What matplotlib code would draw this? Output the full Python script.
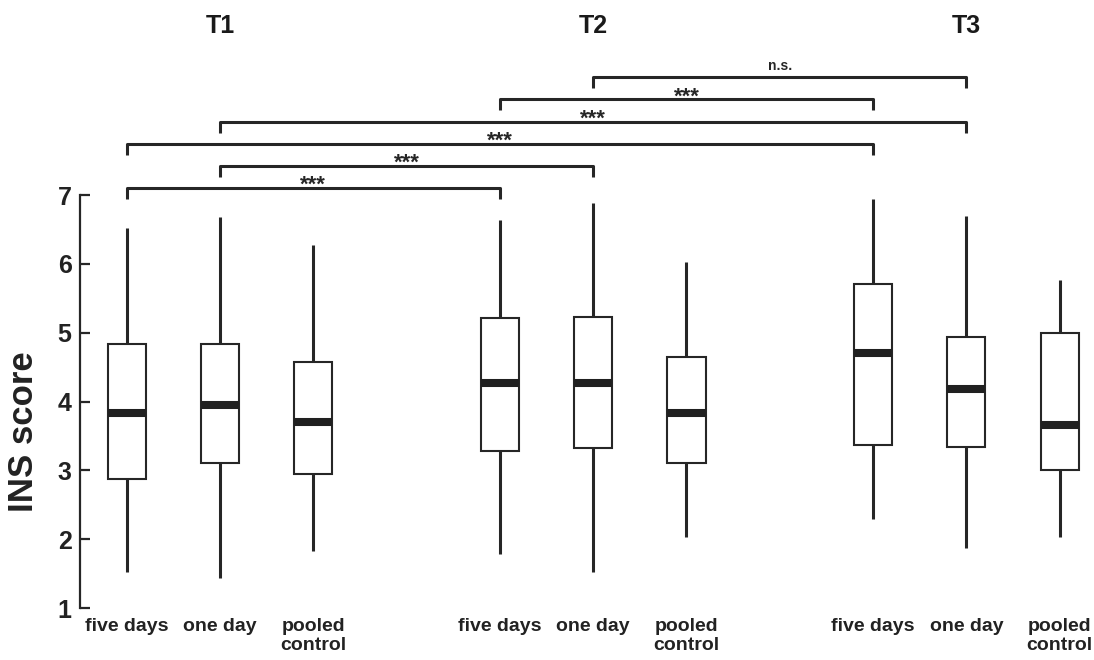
import matplotlib
matplotlib.use("Agg")
import matplotlib.pyplot as plt

plt.rcParams['font.family'] = ['Liberation Sans', 'DejaVu Sans']
plt.rcParams['font.weight'] = 'bold'

# Timepoints and groups
timepoints = ["T1", "T2", "T3"]
groups = ["five days", "one day", "pooled\ncontrol"]
positions = [1, 2, 3, 5, 6, 7, 9, 10, 11]

# Box statistics per group (T1 five days, one day, control, T2 ..., T3 ...)
whisker_low = [1.52, 1.44, 1.83, 1.79, 1.52, 2.03, 2.29, 1.87, 2.03]
quartile1   = [2.87, 3.10, 2.95, 3.28, 3.32, 3.10, 3.37, 3.34, 3.00]
medians     = [3.84, 3.95, 3.70, 4.27, 4.27, 3.83, 4.70, 4.18, 3.66]
quartile3   = [4.83, 4.83, 4.58, 5.21, 5.23, 4.64, 5.70, 4.94, 4.99]
whisker_high = [6.52, 6.68, 6.28, 6.63, 6.89, 6.02, 6.94, 6.69, 5.77]

# Pairwise comparisons: (index a, index b, significance label)
comparisons = [
    (0, 3, "***"),
    (1, 4, "***"),
    (0, 6, "***"),
    (1, 7, "***"),
    (3, 6, "***"),
    (4, 7, "n.s."),
]

ink = "#262626"

fig = plt.figure(figsize=(10.94, 6.60), dpi=100)
# axes: x=0.5 at 80px, y=1 at 608px, y=7 at 195px
x_left_px, x_right_px = 80, 1094
px_per_unit = 93.3
x_hi = 0.5 + (x_right_px - x_left_px) / px_per_unit
ax = fig.add_axes([x_left_px / 1094, 1 - 608 / 660,
                   (x_right_px - x_left_px) / 1094, (608 - 195) / 660])
ax.set_xlim(0.5, x_hi)
ax.set_ylim(1, 7)

stats = []
for i in range(len(positions)):
    stats.append(dict(whislo=whisker_low[i], q1=quartile1[i], med=medians[i],
                      q3=quartile3[i], whishi=whisker_high[i], fliers=[]))

bp = ax.bxp(stats, positions=positions, widths=0.41, showcaps=False,
            showfliers=False, patch_artist=True,
            boxprops=dict(facecolor="white", edgecolor=ink, linewidth=1.5),
            whiskerprops=dict(color=ink, linewidth=2.2, solid_capstyle="butt"),
            medianprops=dict(color="#202020", linewidth=5.8, solid_capstyle="butt"))
for artists in bp.values():
    for a in artists:
        a.set_clip_on(False)

# significance brackets above the plot
base_level = 7.10
step = 0.322
leg = 0.16
for level, (a, b, label) in enumerate(comparisons):
    xa, xb = positions[a], positions[b]
    y = base_level + level * step
    ax.plot([xa, xa, xb, xb], [y - leg, y, y, y - leg], color=ink,
            linewidth=2.2, clip_on=False, solid_joinstyle="round",
            solid_capstyle="butt")
    if label == "n.s.":
        ax.annotate(label, xy=((xa + xb) / 2, y), xytext=(0, 5),
                    textcoords="offset points", ha="center", va="baseline",
                    fontsize=10, fontweight="bold", color=ink,
                    annotation_clip=False)
    else:
        ax.annotate(label, xy=((xa + xb) / 2, y), xytext=(0, -2.0),
                    textcoords="offset points", ha="center", va="baseline",
                    fontsize=16, fontweight="bold", color=ink,
                    annotation_clip=False)

# timepoint headers
for k, tp in enumerate(timepoints):
    ax.text(positions[3 * k + 1], 9.355, tp, ha="center", va="baseline",
            fontsize=18, fontweight="bold", color="#1a1a1a", clip_on=False)

# axes styling
for side in ("top", "right", "bottom"):
    ax.spines[side].set_visible(False)
ax.spines["left"].set_bounds(1, 7)
ax.spines["left"].set_linewidth(1.6)
ax.spines["left"].set_color(ink)

ax.set_yticks([1, 2, 3, 4, 5, 6, 7])
ax.tick_params(axis="y", direction="in", length=7.5, width=1.6, color=ink,
               labelsize=18, pad=6, labelcolor="#222222")
ax.set_xticks(positions)
ax.set_xticklabels(groups * 3)
ax.tick_params(axis="x", length=0, labelsize=14, pad=7, labelcolor="#222222")
for lbl in ax.get_xticklabels() + ax.get_yticklabels():
    lbl.set_fontweight("bold")

ax.set_ylabel("INS score", fontsize=25, fontweight="bold", color="#222222",
              va="center")
ax.yaxis.set_label_coords(-0.056, 0.426)

fig.savefig("out.png", dpi=100)
